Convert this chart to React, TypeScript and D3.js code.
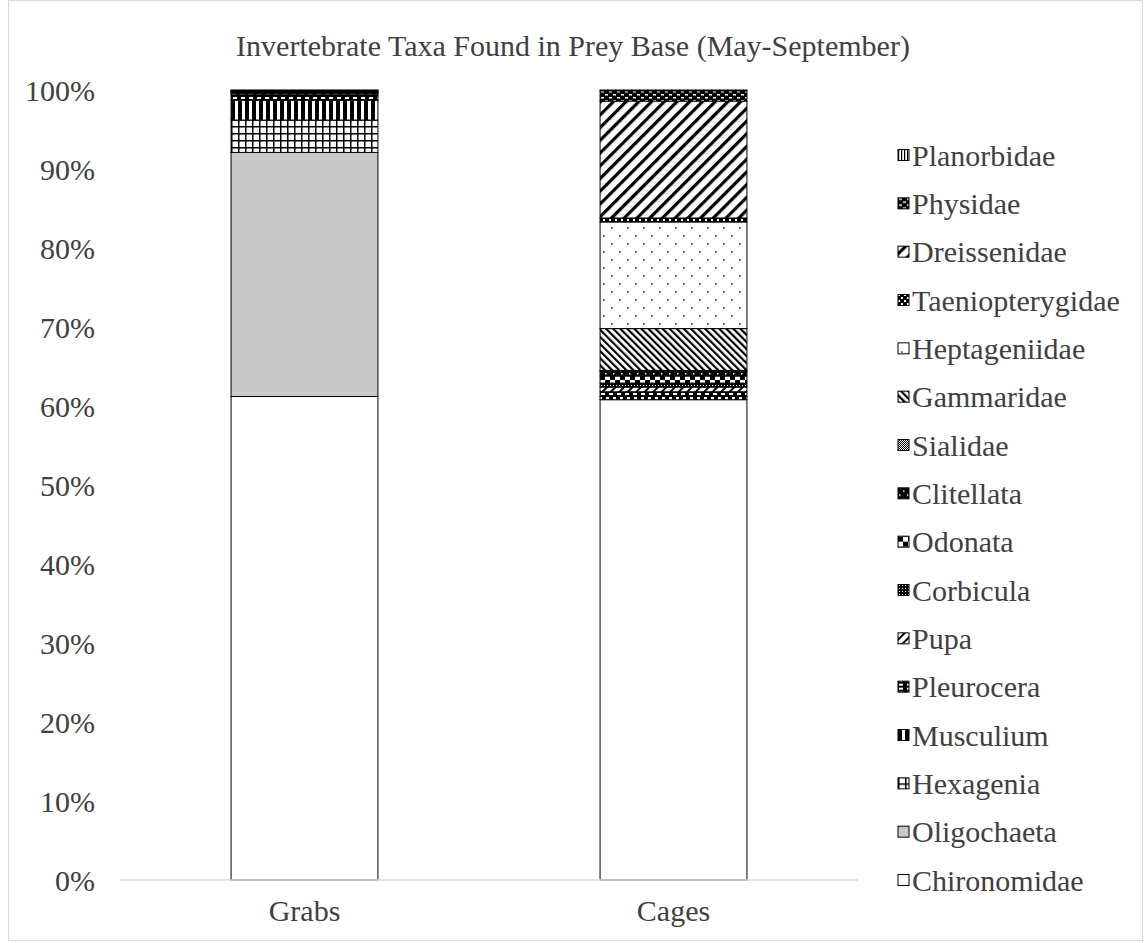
import React, { useEffect, useRef } from "react";
import * as d3 from "d3";

const sites = ["Grabs", "Cages"];

// stacking order, bottom to top
const taxa = [
  "Chironomidae",
  "Oligochaeta",
  "Hexagenia",
  "Musculium",
  "Pleurocera",
  "Pupa",
  "Corbicula",
  "Odonata",
  "Clitellata",
  "Sialidae",
  "Gammaridae",
  "Heptageniidae",
  "Taeniopterygidae",
  "Dreissenidae",
  "Physidae",
  "Planorbidae",
];

// percent of prey base, same order as taxa
const grabsValues = [61.2, 30.9, 4.1, 2.5, 0.7, 0.2, 0.1, 0, 0.1, 0.1, 0, 0, 0, 0.05, 0.05, 0];
const cagesValues = [60.8, 0, 0, 0.4, 0.6, 0.6, 0.5, 0.9, 0.6, 0.1, 5.3, 13.5, 0.5, 14.8, 1.3, 0.1];

const tickValues = [0, 10, 20, 30, 40, 50, 60, 70, 80, 90, 100];

const W = 1146;
const H = 943;
const FONT = "'Liberation Serif', 'Times New Roman', serif";
const FS = 30;

const App = () => {
  const svgRef = useRef<SVGSVGElement>(null);

  useEffect(() => {
    document.body.style.margin = "0";
    const svg = d3.select(svgRef.current);
    svg.selectAll("*").remove();

    const defs = svg.append("defs");
    const pat = (id: string, w: number, h: number, bg: string, rot = 0) => {
      const p = defs
        .append("pattern")
        .attr("id", id)
        .attr("patternUnits", "userSpaceOnUse")
        .attr("width", w)
        .attr("height", h);
      if (rot) p.attr("patternTransform", `rotate(${rot})`);
      p.append("rect").attr("width", w).attr("height", h).attr("fill", bg);
      return p;
    };
    const r = (p: any, x: number, y: number, w: number, h: number, c: string) =>
      p.append("rect").attr("x", x).attr("y", y).attr("width", w).attr("height", h).attr("fill", c);

    // patterns per taxon
    let p = pat("p-Planorbidae", 3, 3, "#fff");
    r(p, 0, 0, 1.2, 3, "#000");
    p = pat("p-Physidae", 8, 6, "#000");
    r(p, 1, 1, 3, 1.5, "#fff");
    r(p, 5, 4, 3, 1.5, "#fff");
    p = pat("p-Dreissenidae", 9, 9, "#fff", 45);
    r(p, 0, 0, 3.2, 9, "#000");
    p = pat("p-Taeniopterygidae", 6, 6, "#000");
    r(p, 0, 0, 2, 2, "#fff");
    r(p, 3, 3, 2, 2, "#fff");
    p = pat("p-Heptageniidae", 16, 16, "#fff");
    r(p, 3, 3, 1.6, 1.6, "#333");
    r(p, 11, 11, 1.6, 1.6, "#333");
    p = pat("p-Gammaridae", 5, 5, "#fff", -45);
    r(p, 0, 0, 2.2, 5, "#000");
    p = pat("p-Sialidae", 2, 2, "#fff");
    r(p, 0, 0, 1, 1, "#000");
    r(p, 1, 1, 1, 1, "#000");
    p = pat("p-Clitellata", 8, 8, "#000");
    r(p, 1, 1, 1.5, 1.5, "#fff");
    r(p, 5, 5, 1.5, 1.5, "#fff");
    p = pat("p-Odonata", 10, 10, "#000");
    r(p, 0, 0, 5, 5, "#fff");
    r(p, 5, 5, 5, 5, "#fff");
    p = pat("p-Corbicula", 3, 3, "#000");
    r(p, 1, 1, 1, 1, "#fff");
    p = pat("p-Pupa", 6, 6, "#fff", 45);
    r(p, 0, 0, 2, 6, "#000");
    p = pat("p-Pleurocera", 8, 4, "#000");
    r(p, 1, 1, 4, 2, "#fff");
    p = pat("p-Musculium", 7, 7, "#000");
    r(p, 4, 0, 3, 7, "#fff");
    p = pat("p-Hexagenia", 7, 7, "#fff");
    r(p, 0, 0, 7, 1.5, "#000");
    r(p, 0, 0, 1.5, 7, "#000");
    pat("p-Oligochaeta", 4, 4, "#c8c8c8");
    pat("p-Chironomidae", 4, 4, "#fff");

    // chart frame
    svg
      .append("rect")
      .attr("x", 8.5)
      .attr("y", 0.5)
      .attr("width", W - 12)
      .attr("height", H - 3)
      .attr("fill", "#fff")
      .attr("stroke", "#d9d9d9");

    const x = d3.scaleBand().domain(sites).range([120, 858]).paddingInner(0.602).paddingOuter(0.301);
    const y = d3.scaleLinear().domain([0, 100]).range([880, 90]);

    const rows = sites.map((s, i) => {
      const vals = i === 0 ? grabsValues : cagesValues;
      const row: any = { site: s };
      taxa.forEach((t, j) => (row[t] = vals[j]));
      return row;
    });
    const series = d3.stack().keys(taxa)(rows);

    svg
      .append("g")
      .selectAll("g")
      .data(series)
      .join("g")
      .attr("fill", (d) => `url(#p-${d.key})`)
      .selectAll("rect")
      .data((d) => d.filter((v) => v[1] - v[0] > 0))
      .join("rect")
      .attr("x", (d: any) => x(d.data.site)!)
      .attr("y", (d) => y(d[1]))
      .attr("width", x.bandwidth())
      .attr("height", (d) => y(d[0]) - y(d[1]))
      .attr("stroke", "#000")
      .attr("stroke-width", 1);

    // baseline
    svg
      .append("line")
      .attr("x1", 120)
      .attr("x2", 858)
      .attr("y1", y(0))
      .attr("y2", y(0))
      .attr("stroke", "#d9d9d9")
      .attr("stroke-width", 1.5);

    // y tick labels
    svg
      .append("g")
      .selectAll("text")
      .data(tickValues)
      .join("text")
      .attr("x", 95)
      .attr("y", (d) => y(d))
      .attr("dy", "0.35em")
      .attr("text-anchor", "end")
      .attr("font-family", FONT)
      .attr("font-size", FS)
      .attr("fill", "#404040")
      .text((d) => `${d}%`);

    // x labels
    svg
      .append("g")
      .selectAll("text")
      .data(sites)
      .join("text")
      .attr("x", (d) => x(d)! + x.bandwidth() / 2)
      .attr("y", 910)
      .attr("dy", "0.35em")
      .attr("text-anchor", "middle")
      .attr("font-family", FONT)
      .attr("font-size", FS)
      .attr("fill", "#404040")
      .text((d) => d);

    // title
    svg
      .append("text")
      .attr("x", 573)
      .attr("y", 45)
      .attr("dy", "0.35em")
      .attr("text-anchor", "middle")
      .attr("font-family", FONT)
      .attr("font-size", FS)
      .attr("fill", "#404040")
      .text("Invertebrate Taxa Found in Prey Base (May-September)");

    // legend, top item is last taxon
    const legendTaxa = taxa.slice().reverse();
    const ly = d3.scalePoint().domain(legendTaxa).range([155, 880]);
    const lg = svg
      .append("g")
      .selectAll("g")
      .data(legendTaxa)
      .join("g")
      .attr("transform", (d) => `translate(898,${ly(d)})`);
    lg.append("rect")
      .attr("x", 0)
      .attr("y", -5.5)
      .attr("width", 11)
      .attr("height", 11)
      .attr("fill", (d) => `url(#p-${d})`)
      .attr("stroke", "#000")
      .attr("stroke-width", 1);
    lg.append("text")
      .attr("x", 14)
      .attr("dy", "0.35em")
      .attr("font-family", FONT)
      .attr("font-size", FS)
      .attr("fill", "#404040")
      .text((d) => d);
  }, []);

  return <svg ref={svgRef} width={W} height={H} style={{ display: "block", margin: 0 }}></svg>;
};

export default App;
